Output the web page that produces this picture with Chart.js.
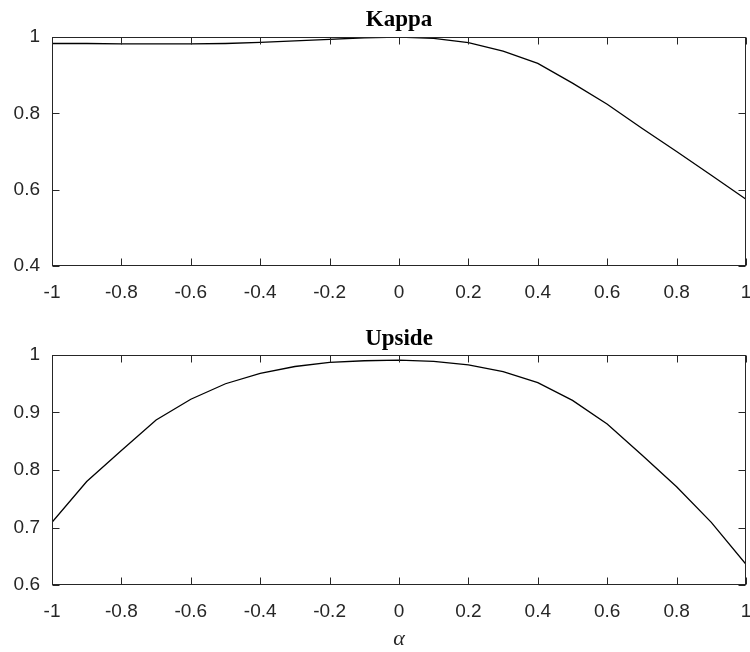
<!DOCTYPE html>
<html>
<head>
<meta charset="utf-8">
<script src="https://cdn.jsdelivr.net/npm/chart.js@4"></script>
<style>
  body { margin: 0; background: #fff; }
  #wrap { position: relative; width: 750px; height: 652px; }
  canvas { position: absolute; left: 0; }
  #kappaChart { top: 0; }
  #upsideChart { top: 300px; }
</style>
</head>
<body>
<div id="wrap">
  <canvas id="kappaChart" width="750" height="300"></canvas>
  <canvas id="upsideChart" width="750" height="352"></canvas>
</div>
<script>
// alpha grid and the two measures evaluated on it
const alphaValues = [-1, -0.9, -0.8, -0.7, -0.6, -0.5, -0.4, -0.3, -0.2, -0.1, 0,
                     0.1, 0.2, 0.3, 0.4, 0.5, 0.6, 0.7, 0.8, 0.9, 1];
const kappaValues = [0.983, 0.983, 0.982, 0.982, 0.982, 0.983, 0.986, 0.990, 0.994, 0.998, 1.0,
                     0.9965, 0.985, 0.963, 0.931, 0.879, 0.824, 0.761, 0.700, 0.638, 0.575];
const upsideValues = [0.709, 0.780, 0.834, 0.887, 0.923, 0.950, 0.968, 0.980, 0.987, 0.990, 0.991,
                      0.989, 0.983, 0.971, 0.952, 0.921, 0.880, 0.826, 0.771, 0.709, 0.636];

const xTickValues = [-1, -0.8, -0.6, -0.4, -0.2, 0, 0.2, 0.4, 0.6, 0.8, 1];
const kappaYTicks = [0.4, 0.6, 0.8, 1];
const upsideYTicks = [0.6, 0.7, 0.8, 0.9, 1];

const axisColor = '#262626';
const tickFont = { family: 'Liberation Sans', size: 19 };

// box round the plot area with short inward ticks on all four sides
const boxTicks = {
    id: 'boxTicks',
    afterDraw(chart) {
        const { ctx, chartArea: a, scales: { x, y } } = chart;
        const len = 7;
        const L = Math.round(a.left) + 0.5, R = Math.round(a.right) - 0.5;
        const T = Math.round(a.top) + 0.5, B = Math.round(a.bottom) - 0.5;
        ctx.save();
        ctx.strokeStyle = axisColor;
        ctx.lineWidth = 1;
        ctx.beginPath();
        x.ticks.forEach(t => {
            const px = Math.round(x.getPixelForValue(t.value)) + 0.5;
            ctx.moveTo(px, B); ctx.lineTo(px, B - len);
            ctx.moveTo(px, T); ctx.lineTo(px, T + len);
        });
        y.ticks.forEach(t => {
            const py = Math.round(y.getPixelForValue(t.value)) + 0.5;
            ctx.moveTo(L, py); ctx.lineTo(L + len, py);
            ctx.moveTo(R, py); ctx.lineTo(R - len, py);
        });
        ctx.stroke();
        ctx.strokeRect(L, T, R - L, B - T);
        ctx.restore();
    }
};

function makeChart(id, title, values, yMin, yMax, yTicks, titlePad, xHeight, showAlpha) {
    const ctx = document.getElementById(id).getContext('2d');
    return new Chart(ctx, {
        type: 'line',
        data: {
            datasets: [{
                data: alphaValues.map((a, i) => ({ x: a, y: values[i] })),
                borderColor: '#000',
                borderWidth: 1.3,
                pointRadius: 0,
                tension: 0,
                fill: false
            }]
        },
        options: {
            responsive: false,
            animation: false,
            layout: { padding: { top: 0, right: 4, bottom: 0, left: 0 } },
            plugins: {
                legend: { display: false },
                tooltip: { enabled: false },
                title: {
                    display: true,
                    text: title,
                    fullSize: false,
                    color: '#000',
                    font: { family: 'Liberation Serif', size: 23, weight: 'bold' },
                    padding: titlePad
                }
            },
            scales: {
                x: {
                    type: 'linear',
                    min: -1,
                    max: 1,
                    grid: { display: false, drawTicks: false },
                    border: { display: false },
                    afterBuildTicks: s => { s.ticks = xTickValues.map(v => ({ value: v })); },
                    ticks: {
                        color: axisColor,
                        font: tickFont,
                        padding: 15.5,
                        maxRotation: 0,
                        autoSkip: false,
                        callback: v => String(v)
                    },
                    title: {
                        display: showAlpha,
                        text: 'α',
                        color: axisColor,
                        font: { family: 'Liberation Serif', size: 22, style: 'italic' },
                        padding: { top: 0, bottom: 0 }
                    },
                    afterFit: s => {
                        s.height = xHeight;
                        s.paddingLeft = 0;
                        s.paddingRight = 0;
                    }
                },
                y: {
                    min: yMin,
                    max: yMax,
                    grid: { display: false, drawTicks: false },
                    border: { display: false },
                    afterBuildTicks: s => { s.ticks = yTicks.map(v => ({ value: v })); },
                    ticks: {
                        color: axisColor,
                        font: tickFont,
                        padding: 12,
                        callback: v => String(v)
                    },
                    afterFit: s => {
                        s.width = 52;
                        s.paddingTop = 0;
                        s.paddingBottom = 0;
                    }
                }
            }
        },
        plugins: [boxTicks]
    });
}

makeChart('kappaChart', 'Kappa', kappaValues, 0.4, 1, kappaYTicks,
          { top: 6.5, bottom: 2.9 }, 34, false);
makeChart('upsideChart', 'Upside', upsideValues, 0.6, 1, upsideYTicks,
          { top: 25.4, bottom: 2 }, 67, true);
</script>
</body>
</html>
